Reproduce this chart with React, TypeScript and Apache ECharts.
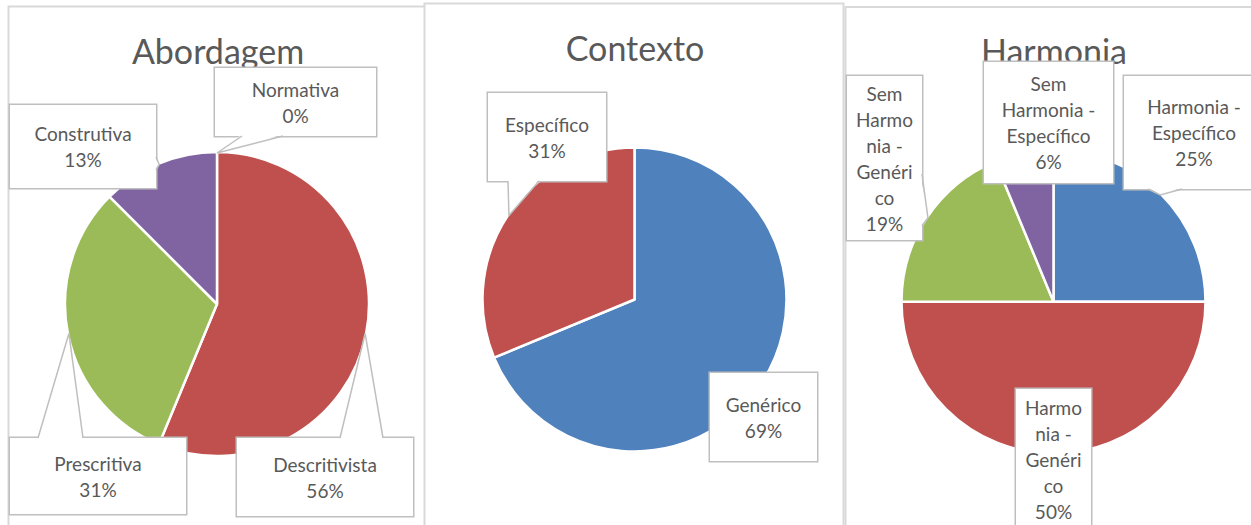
import React, { useEffect, useRef } from 'react';
import * as echarts from 'echarts';

// ---------- data ----------
const chartTitles = ['Abordagem', 'Contexto', 'Harmonia'];

const abordagemCategories = ['Normativa', 'Descritivista', 'Prescritiva', 'Construtiva'];
const abordagemValues = [0, 9, 5, 2];
const abordagemLabelText = ['Normativa', 'Descritivista', 'Prescritiva', 'Construtiva'];

const contextoCategories = ['Genérico', 'Específico'];
const contextoValues = [11, 5];
const contextoLabelText = ['Genérico', 'Específico'];

const harmoniaCategories = ['Harmonia - Específico', 'Harmonia - Genérico', 'Sem Harmonia - Genérico', 'Sem Harmonia - Específico'];
const harmoniaValues = [4, 8, 3, 1];
const harmoniaLabelText = ['Harmonia -\nEspecífico', 'Harmo\nnia -\nGenéri\nco', 'Sem\nHarmo\nnia -\nGenéri\nco', 'Sem\nHarmonia -\nEspecífico'];

const palette = ['#4F81BD', '#C0504D', '#9BBB59', '#8064A2'];

// ---------- layout (positions / styles only) ----------
type Tail = { side: 'top' | 'bottom' | 'right'; a: number; b: number };
type Box = { x0: number; y0: number; x1: number; y1: number; tail?: Tail };

const LINE_H = 26;
const PIE_R = 152;
const TIP_R = 151;

const panels = [
  { x: 8.5, y: 6.5, w: 440, h: 540 },
  { x: 424.5, y: 3.5, w: 419, h: 540 },
  { x: 845.5, y: 7, w: 420, h: 540 },
];

const abordagemBoxes: Box[] = [
  { x0: 215, y0: 68, x1: 376, y1: 136, tail: { side: 'bottom', a: 242, b: 283 } },
  { x0: 237, y0: 438, x1: 413, y1: 516, tail: { side: 'top', a: 340, b: 383 } },
  { x0: 10, y0: 438, x1: 186, y1: 514, tail: { side: 'top', a: 38, b: 83 } },
  { x0: 10, y0: 105, x1: 156, y1: 188, tail: { side: 'right', a: 157, b: 170 } },
];
const contextoBoxes: Box[] = [
  { x0: 710, y0: 373, x1: 817, y1: 461 },
  { x0: 488, y0: 93, x1: 606, y1: 181, tail: { side: 'bottom', a: 508, b: 539 } },
];
const harmoniaBoxes: Box[] = [
  { x0: 1124, y0: 76, x1: 1264, y1: 189, tail: { side: 'bottom', a: 1148, b: 1182 } },
  { x0: 1016, y0: 389, x1: 1091, y1: 529 },
  { x0: 847, y0: 76, x1: 922, y1: 240, tail: { side: 'right', a: 174, b: 226 } },
  { x0: 984, y0: 62, x1: 1113, y1: 183 },
];

const charts = [
  { title: chartTitles[0], categories: abordagemCategories, values: abordagemValues, labels: abordagemLabelText, center: [217, 304], titlePos: [218, 50], boxes: abordagemBoxes },
  { title: chartTitles[1], categories: contextoCategories, values: contextoValues, labels: contextoLabelText, center: [634.5, 299.5], titlePos: [635, 47], boxes: contextoBoxes },
  { title: chartTitles[2], categories: harmoniaCategories, values: harmoniaValues, labels: harmoniaLabelText, center: [1053.5, 301.7], titlePos: [1054, 50], boxes: harmoniaBoxes },
];

const FONT = 'Lato, "Open Sans", sans-serif';
const TEXT_COLOR = '#595959';
const BOX_BORDER = '#BFBFBF';

function pct(values: number[], i: number) {
  const total = values.reduce((s, v) => s + v, 0);
  return Math.round((values[i] / total) * 100);
}

function tipPoint(center: number[], values: number[], i: number) {
  const total = values.reduce((s, v) => s + v, 0);
  let acc = 0;
  for (let j = 0; j < i; j++) acc += values[j];
  const mid = ((acc + values[i] / 2) / total) * Math.PI * 2;
  return [center[0] + TIP_R * Math.sin(mid), center[1] - TIP_R * Math.cos(mid)];
}

function buildOption() {
  const graphics: any[] = [];
  panels.forEach((p, i) => {
    graphics.push({
      type: 'rect',
      z: i * 0.1,
      shape: { x: p.x, y: p.y, width: p.w, height: p.h },
      style: { fill: '#ffffff', stroke: '#D9D9D9', lineWidth: 2 },
      silent: true,
    });
  });
  charts.forEach((c) => {
    graphics.push({
      type: 'text',
      z: 1,
      x: c.titlePos[0],
      y: c.titlePos[1],
      style: {
        text: c.title,
        fill: TEXT_COLOR,
        font: `34px ${FONT}`,
        align: 'center',
        verticalAlign: 'middle',
      },
      silent: true,
    });
    c.boxes.forEach((b, i) => {
      if (!b.tail) return;
      const t = b.tail;
      const tip = tipPoint(c.center, c.values, i);
      let pa: number[], pb: number[], ia: number[], ib: number[];
      if (t.side === 'top') {
        pa = [t.a, b.y0]; pb = [t.b, b.y0]; ia = [t.a, b.y0 + 1.6]; ib = [t.b, b.y0 + 1.6];
      } else if (t.side === 'bottom') {
        pa = [t.a, b.y1]; pb = [t.b, b.y1]; ia = [t.a, b.y1 - 1.6]; ib = [t.b, b.y1 - 1.6];
      } else {
        pa = [b.x1, t.a]; pb = [b.x1, t.b]; ia = [b.x1 - 1.6, t.a]; ib = [b.x1 - 1.6, t.b];
      }
      graphics.push({
        type: 'polygon', z: 10, silent: true,
        shape: { points: [ia, tip, ib] },
        style: { fill: '#ffffff', stroke: null },
      });
      graphics.push({
        type: 'polyline', z: 11, silent: true,
        shape: { points: [pa, tip, pb] },
        style: { fill: null, stroke: BOX_BORDER, lineWidth: 1.5 },
      });
    });
  });

  const series = charts.map((c) => ({
    type: 'pie',
    center: c.center,
    radius: PIE_R,
    startAngle: 90,
    clockwise: true,
    avoidLabelOverlap: false,
    animation: false,
    emphasis: { disabled: true },
    itemStyle: { borderColor: '#ffffff', borderWidth: 2.5 },
    label: {
      show: true,
      position: 'outside',
      formatter: (p: any) => `${c.labels[p.dataIndex]}\n${pct(c.values, p.dataIndex)}%`,
      color: TEXT_COLOR,
      fontFamily: FONT,
      fontSize: 19,
      lineHeight: LINE_H,
      align: 'center',
      backgroundColor: '#ffffff',
      borderColor: BOX_BORDER,
      borderWidth: 1.5,
      overflow: 'none',
    },
    labelLine: { show: false },
    labelLayout: (p: any) => {
      const b = c.boxes[p.dataIndex];
      return { x: (b.x0 + b.x1) / 2, y: (b.y0 + b.y1) / 2, align: 'center', verticalAlign: 'middle' };
    },
    data: c.categories.map((name, i) => {
      const b = c.boxes[i];
      const lines = c.labels[i].split('\n').length + 1;
      const pv = Math.max(0, ((b.y1 - b.y0) - lines * LINE_H) / 2);
      return {
        name,
        value: c.values[i],
        itemStyle: { color: palette[i] },
        label: { width: b.x1 - b.x0, padding: [pv, 0, pv, 0] },
      };
    }),
  }));

  return {
    animation: false,
    backgroundColor: '#ffffff',
    tooltip: { show: false },
    graphic: { elements: graphics },
    series,
  };
}

export default function App() {
  const ref = useRef<HTMLDivElement | null>(null);
  useEffect(() => {
    document.body.style.margin = '0';
    if (!ref.current) return;
    const chart = echarts.init(ref.current, undefined, { renderer: 'svg' });
    chart.setOption(buildOption() as any);
    return () => chart.dispose();
  }, []);
  return (
    <div
      ref={ref}
      style={{ position: 'fixed', left: 0, top: 0, width: 1251, height: 525, background: '#fff' }}
    />
  );
}
